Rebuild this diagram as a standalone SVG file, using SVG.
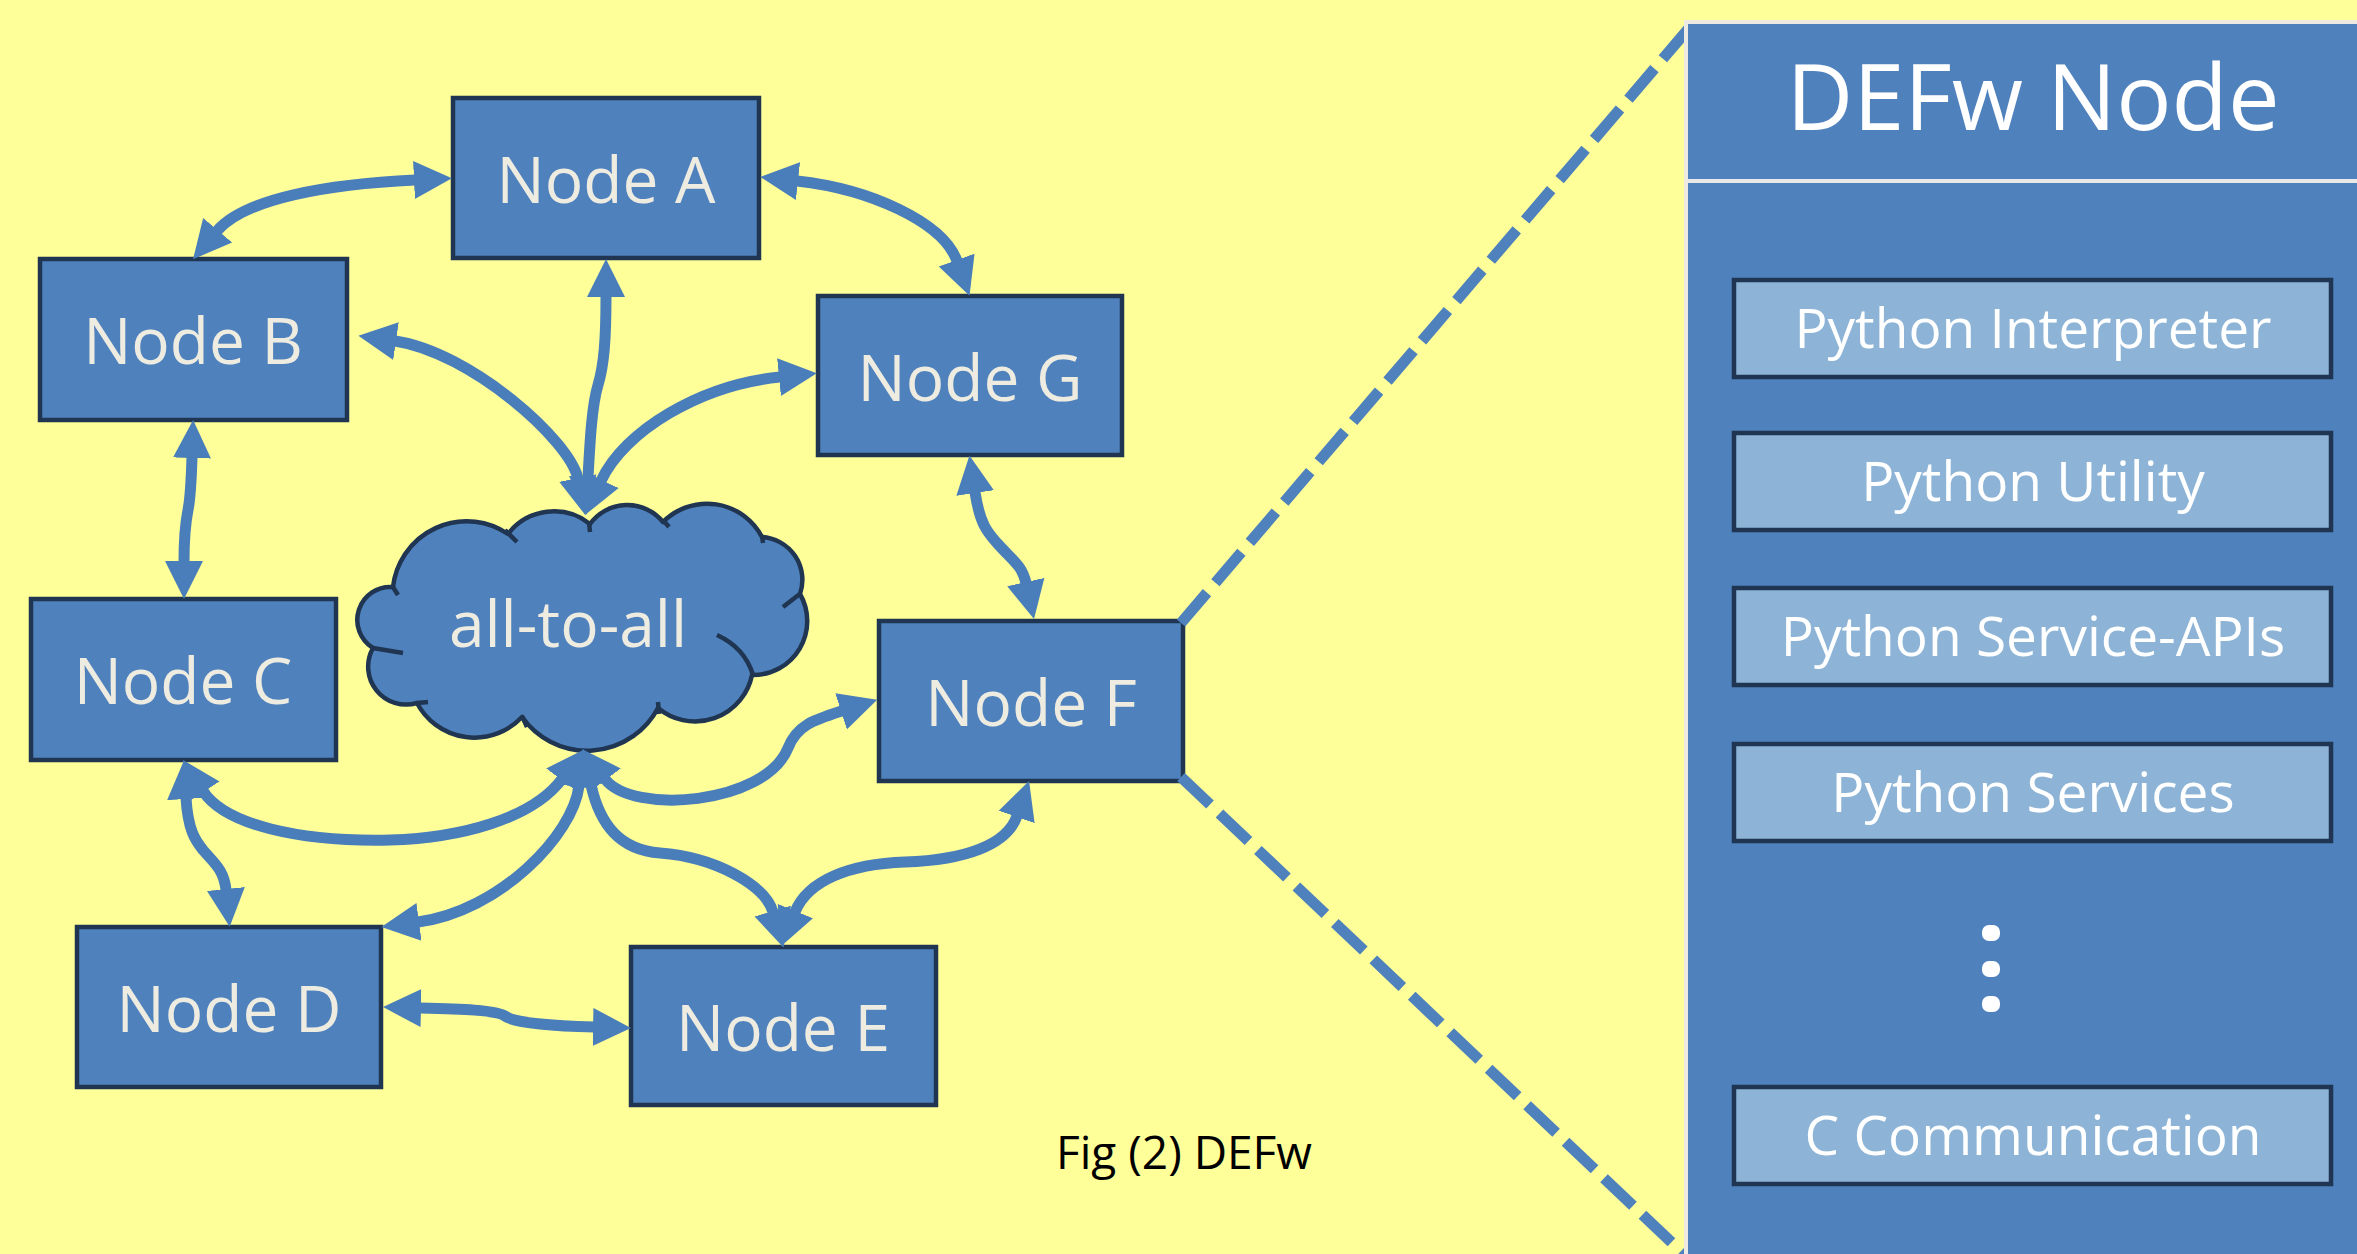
<svg xmlns="http://www.w3.org/2000/svg" width="2357" height="1254" viewBox="0 0 2357 1254">
  <style>
    .node rect { fill: #4F81BD; stroke: #1F3552; stroke-width: 4.5; }
    .node text { font-family: "Open Sans", "Liberation Sans", sans-serif; font-size: 64px; fill: #EEECE1; text-anchor: middle; }
    .cloud path.outline { fill: #4F81BD; stroke: #1F3552; stroke-width: 4.5; stroke-linejoin: round; }
    .cloud path.inner { fill: none; stroke: #1F3552; stroke-width: 4.5; stroke-linecap: butt; }
    .link { fill: none; stroke: #4A7EBB; stroke-width: 11; marker-start: url(#ah); marker-end: url(#ah); }
    .zoomline { fill: none; stroke: #4F81BD; stroke-width: 11; stroke-dasharray: 40 13; }
    .layer rect { fill: #8DB4D6; stroke: #1F3552; stroke-width: 4.5; }
    .layer text { font-family: "Open Sans", "Liberation Sans", sans-serif; font-size: 55px; fill: #FFFFFF; text-anchor: middle; }
  </style>
  <defs>
    <marker id="ah" markerUnits="userSpaceOnUse" markerWidth="40" markerHeight="40" viewBox="0 0 40 40" refX="1" refY="20" orient="auto-start-reverse">
      <path d="M0,1 L38,20 L0,39 Z" fill="#4A7EBB"/>
    </marker>
  </defs>

  <!-- background -->
  <rect x="0" y="0" width="2357" height="1254" fill="#FFFF99"/>

  <!-- cluster nodes -->
  <g id="node-a" class="node"><rect x="453" y="98" width="306" height="160"/><text x="606" y="203">Node A</text></g>
  <g id="node-b" class="node"><rect x="40" y="259" width="307" height="161"/><text x="193" y="364">Node B</text></g>
  <g id="node-g" class="node"><rect x="818" y="296" width="304" height="159"/><text x="970" y="401">Node G</text></g>
  <g id="node-c" class="node"><rect x="31" y="599" width="305" height="161"/><text x="183" y="704">Node C</text></g>
  <g id="node-d" class="node"><rect x="77" y="927" width="304" height="160"/><text x="229" y="1032">Node D</text></g>
  <g id="node-e" class="node"><rect x="631" y="947" width="305" height="158"/><text x="783" y="1051">Node E</text></g>
  <g id="node-f" class="node"><rect x="879" y="621" width="304" height="160"/><text x="1031" y="726">Node F</text></g>

  <!-- all-to-all cloud -->
  <g id="cloud" class="cloud">
    <path class="outline" d="M393,587 A74,74 0 0 1 508,534 A58,58 0 0 1 590,524 A46,46 0 0 1 663,522 A62,62 0 0 1 762,537 A43,43 0 0 1 800,594 A54,54 0 0 1 752,675 A58,58 0 0 1 658,708 A80,80 0 0 1 522,717 A65,65 0 0 1 417,703 A38,38 0 0 1 373,648 A33,33 0 0 1 393,587 Z"/>
    <path class="inner" d="M393,587 L398,595 M505,530 L517,542 M589,522 L590,532 M663,520 L669,527 M762,535 L763,543 M801,593 L783,607 M717,635 Q745,648 753,675 M658,702 L659,714 M522,716 L527,727 M417,703 L428,702 M373,648 L403,653"/>
    <text x="568" y="647" font-family="'Open Sans', 'Liberation Sans', sans-serif" font-size="64" fill="#EEECE1" text-anchor="middle">all-to-all</text>
  </g>

  <!-- connectors -->
  <g id="connectors">
    <path class="link" d="M415,180 C330,184 245,198 217,231"/>
    <path class="link" d="M797,181 C870,189 943,222 957,261"/>
    <path class="link" d="M606,296 C606,340 604,365 598,385 C592,405 590,440 588,478"/>
    <path class="link" d="M395,341 C470,352 570,440 578,479"/>
    <path class="link" d="M780,377 C700,385 624,431 601,481"/>
    <path class="link" d="M192,457 C191,490 190,500 188,510 C186,520 184,535 184,562"/>
    <path class="link" d="M975,492 C980,525 988,533 997,543 C1012,560 1022,565 1026,583"/>
    <path class="link" d="M605,779 C632,815 765,805 788,748 C797,725 814,720 842,711"/>
    <path class="link" d="M203,791 C225,825 300,842 390,840 C460,838 532,819 562,779"/>
    <path class="link" d="M418,922 C500,911 573,835 579,786"/>
    <path class="link" d="M591,785 C600,825 620,850 660,853 C715,857 765,885 773,912"/>
    <path class="link" d="M186,798 C188,830 195,840 203,850 C215,864 224,870 226,890"/>
    <path class="link" d="M420,1008 C460,1009 497,1010 505,1016 C513,1023 555,1026 594,1027"/>
    <path class="link" d="M1017,816 C1007,845 965,860 905,862 C850,864 808,880 795,912"/>
    <!-- zoom-out guides from Node F to the detail panel -->
    <path class="zoomline" d="M1181,623 L1690,27"/>
    <path class="zoomline" d="M1181,777 L1686,1256"/>
  </g>

  <!-- detail panel: DEFw Node -->
  <g id="defw-node">
    <rect x="1686" y="22" width="700" height="1260" fill="#4F81BD" stroke="#ECEAE3" stroke-width="4"/>
    <line x1="1688" y1="181" x2="2357" y2="181" stroke="#E8E8E8" stroke-width="4"/>
    <text x="2033" y="130" font-family="'Open Sans', 'Liberation Sans', sans-serif" font-size="92" fill="#FFFFFF" text-anchor="middle">DEFw Node</text>
  </g>
  <g id="layer-interpreter" class="layer"><rect x="1734" y="280" width="597" height="97"/><text x="2033" y="348">Python Interpreter</text></g>
  <g id="layer-utility" class="layer"><rect x="1734" y="433" width="597" height="97"/><text x="2033" y="501">Python Utility</text></g>
  <g id="layer-service-apis" class="layer"><rect x="1734" y="588" width="597" height="97"/><text x="2033" y="656">Python Service-APIs</text></g>
  <g id="layer-services" class="layer"><rect x="1734" y="744" width="597" height="97"/><text x="2033" y="812">Python Services</text></g>
  <g id="layer-ellipsis" fill="#FFFFFF">
    <rect x="1982" y="925" width="18" height="16" rx="7"/>
    <rect x="1982" y="961" width="18" height="16" rx="7"/>
    <rect x="1982" y="996" width="18" height="16" rx="7"/>
  </g>
  <g id="layer-c-comm" class="layer"><rect x="1734" y="1087" width="597" height="97"/><text x="2033" y="1155">C Communication</text></g>

  <!-- caption -->
  <text x="1184" y="1169" font-family="'Open Sans', 'Liberation Sans', sans-serif" font-size="46" fill="#000000" text-anchor="middle">Fig (2) DEFw</text>
</svg>
